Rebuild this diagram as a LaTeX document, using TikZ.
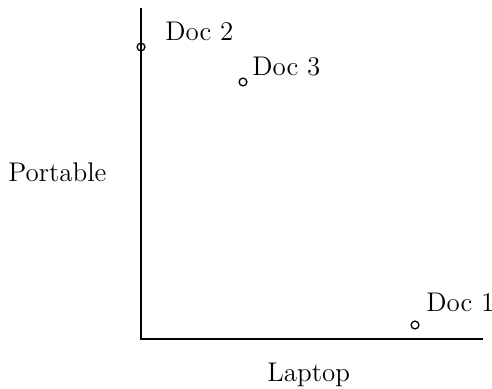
\documentclass[tikz,border=0pt]{standalone}
\begin{document}
\begin{tikzpicture}[x=0.5pt,y=-0.5pt,
  lbl/.style={inner sep=0pt,anchor=base west,font=\fontsize{13.5}{16}\selectfont},
  pt/.style={circle,draw,line width=0.65pt,inner sep=0pt,minimum size=3.9pt},
  axis/.style={line width=0.7pt}]
\useasboundingbox (0,0) rectangle (492,389);
% axes
\coordinate (origin) at (141,339);
\coordinate (ytop) at (141,8);
\coordinate (xend) at (483,339);
\draw[axis] (ytop) -- (origin) -- (xend);
% documents
\node[pt] (d2) at (141,47) {};
\node[pt] (d3) at (243,82) {};
\node[pt] (d1) at (415,325) {};
\node[lbl] (t2) at (165,41) {Doc 2};
\node[lbl] (t3) at (252,76) {Doc 3};
\node[lbl] (t1) at (426,312) {Doc 1};
% axis titles
\node[lbl] (ylab) at (8,182) {Portable};
\node[lbl] (xlab) at (267,381) {Laptop};
\end{tikzpicture}
\end{document}
